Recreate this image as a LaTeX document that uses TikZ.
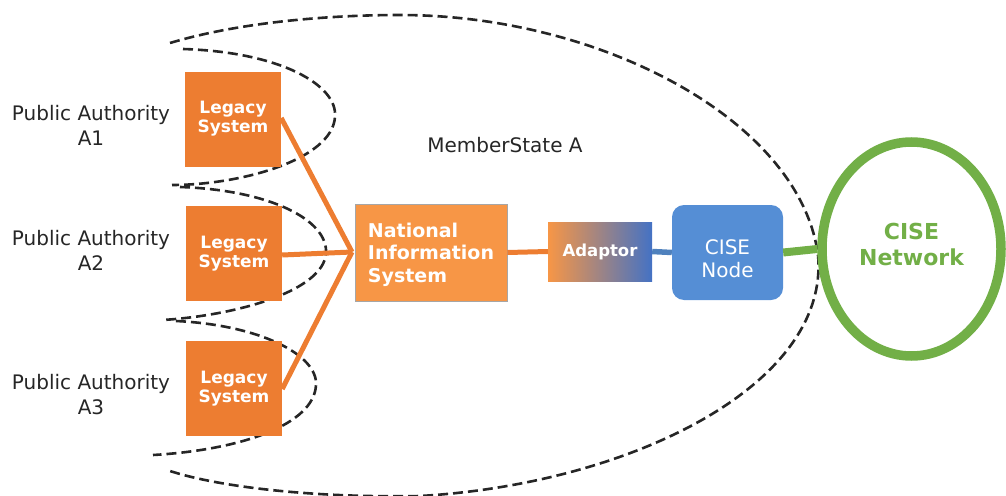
\documentclass[tikz,border=0pt]{standalone}
\usepackage{fontspec}
\setmainfont{DejaVu Sans}
\usetikzlibrary{shapes.geometric}
\definecolor{legacyorange}{HTML}{ED7D31}
\definecolor{nisorange}{HTML}{F79646}
\definecolor{cisblue}{HTML}{558ED5}
\definecolor{linkblue}{HTML}{4F81BD}
\definecolor{adblue}{HTML}{4472C4}
\definecolor{netgreen}{HTML}{72AF47}
\tikzset{
  legacybox/.style={fill=legacyorange, minimum width=96pt, minimum height=95pt, inner sep=0pt,
    text=white, align=center, font=\fontsize{17}{19}\selectfont\bfseries},
  palabel/.style={align=center, font=\fontsize{20}{25}\selectfont, text=black!85},
  boundary/.style={draw=black!85, line width=2.6pt, dash pattern=on 10pt off 5pt},
  orangelink/.style={draw=legacyorange, line width=5pt},
}
\begin{document}
\begin{tikzpicture}[x=1pt,y=-1pt]
\useasboundingbox (0,0) rectangle (1006,495);
% dashed boundaries
\draw[boundary] (170,43) .. controls (240,22) and (330,15) .. (400,15)
  .. controls (600,15) and (800,120) .. (818,255)
  .. controls (830,385) and (630,484) .. (420,496)
  .. controls (320,498) and (220,488) .. (167,470);
\draw[boundary] (183,49) .. controls (280,52) and (338,85) .. (335,117)
  .. controls (332,160) and (240,185) .. (172,185);
\draw[boundary] (180,187) .. controls (270,190) and (328,220) .. (326,253)
  .. controls (324,290) and (240,315) .. (163,320);
\draw[boundary] (176,321) .. controls (260,325) and (318,355) .. (316,385)
  .. controls (314,425) and (240,450) .. (153,455);
% labels
\node[palabel] (pa1) at (91,125) {Public Authority\\A1};
\node[palabel] (pa2) at (91,250) {Public Authority\\A2};
\node[palabel] (pa3) at (91,395) {Public Authority\\A3};
\node[font=\fontsize{20}{24}\selectfont, text=black!85] (ms) at (505,145) {MemberState A};
% boxes
\node[legacybox] (l1) at (233,119) {Legacy\\System};
\node[legacybox] (l2) at (234,253.5) {Legacy\\System};
\node[legacybox] (l3) at (234,388.5) {Legacy\\System};
\node[fill=nisorange, draw=black!35, line width=0.6pt, minimum width=152pt, minimum height=97pt, inner sep=0pt,
  label={[text=white, align=left, font=\fontsize{19}{22.5}\selectfont\bfseries, yshift=-2pt]center:{National\\Information\\System}}] (nis) at (431,252.5) {};
\node[left color=nisorange, right color=adblue, minimum width=104pt, minimum height=59pt, inner sep=0pt,
  text=white, font=\fontsize{16.5}{20}\selectfont\bfseries] (ad) at (600,251.5) {Adaptor};
\node[fill=cisblue, rounded corners=12pt, minimum width=111pt, minimum height=95pt, inner sep=0pt,
  label={[text=white, align=center, font=\fontsize{20}{23}\selectfont, yshift=-6pt]center:{CISE\\Node}}] (cn) at (727.5,252.5) {};
\node[ellipse, draw=netgreen, line width=9.5pt, minimum width=179pt, minimum height=214pt, inner sep=0pt,
  label={[text=netgreen, align=center, font=\fontsize{22}{26}\selectfont\bfseries, yshift=5pt]center:{CISE\\Network}}] (net) at (911.5,249) {};
% connectors
\coordinate (hub) at (352,252);
\draw[orangelink] ([yshift=1pt]l1.east) -- (hub);
\draw[orangelink] ([yshift=-1.5pt]l2.east) -- (hub);
\draw[orangelink] ([yshift=-0.5pt]l3.east) -- (hub);
\draw[orangelink] (nis.east) -- (ad.west);
\draw[draw=linkblue, line width=5.5pt] (ad.east) -- (cn.west);
\draw[draw=netgreen, line width=8pt] (cn.east) -- (net.west);
\end{tikzpicture}
\end{document}
